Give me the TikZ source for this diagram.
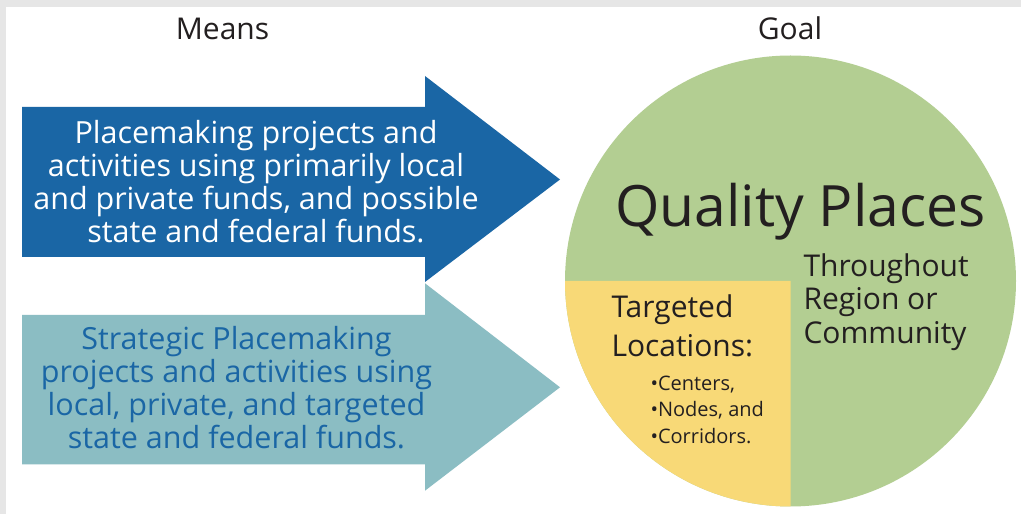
\documentclass[tikz,border=0pt]{standalone}
\usepackage{fontspec}
\setmainfont{Open Sans}
\definecolor{border}{HTML}{E6E6E6}
\definecolor{darkblue}{HTML}{1A66A5}
\definecolor{teal}{HTML}{8BBDC3}
\definecolor{leaf}{HTML}{B3CE92}
\definecolor{sun}{HTML}{F8D977}
\definecolor{ink}{HTML}{231F20}
\tikzset{
  lbl/.style={inner sep=0pt, outer sep=0pt, anchor=base},
  arrowshape/.style={draw=none},
}
\newcommand{\blk}[3]{\begin{tabular}[t]{@{}#1@{}}#3\end{tabular}}
\begin{document}
\begin{tikzpicture}[x=1pt,y=1pt]
\useasboundingbox (0,0) rectangle (1021,514);
\fill[white] (0,0) rectangle (1021,514);
% frame
\fill[border] (0,507) rectangle (1021,514);
\fill[border] (0,0) rectangle (6,514);
% headings
\node[lbl, font=\fontsize{30}{34}\selectfont, text=ink] (means) at (222.5,474) {Means};
\node[lbl, font=\fontsize{30}{34}\selectfont, text=ink] (goal) at (790,474) {Goal};
% arrows
\fill[teal] (22,199) -- (425,199) -- (425,230.7) -- (560,126.7) -- (425,23.3) -- (425,49.7) -- (22,49.7) -- cycle;
\fill[darkblue] (22,407) -- (425,407) -- (425,438) -- (560,334.5) -- (425,232) -- (425,257) -- (22,257) -- cycle;
\node[lbl, text=white, font=\fontsize{30.5}{32}\selectfont] (means1) at (256,370)
  {\blk{c}{}{Placemaking projects and\\activities using primarily local\\and private funds, and possible\\state and federal funds.}};
\node[lbl, text=darkblue, font=\fontsize{30.5}{32}\selectfont] (means2) at (236.5,164)
  {\blk{c}{}{Strategic Placemaking\\projects and activities using\\local, private, and targeted\\state and federal funds.}};
% goal circle
\coordinate (c) at (790.5,233);
\fill[leaf] (c) circle[radius=225.5];
\fill[sun] (c) -- (565,233) arc[start angle=180, end angle=270, radius=225.5] -- cycle;
\node[lbl, text=ink, font=\fontsize{57}{60}\selectfont] (qp) at (800.5,287) {Quality Places};
\node[lbl, anchor=base west, text=ink, font=\fontsize{30}{33.5}\selectfont] (region) at (803.5,237.5)
  {\blk{l}{}{Throughout\\Region or\\Community}};
\node[lbl, anchor=base west, text=ink, font=\fontsize{30}{38.5}\selectfont] (target) at (611.5,196)
  {\blk{l}{}{Targeted\\Locations:}};
\node[lbl, anchor=base west, text=ink, font=\fontsize{20}{26.3}\selectfont] (bullets) at (650.5,123.3)
  {\blk{l}{}{•Centers,\\•Nodes, and\\•Corridors.}};
\end{tikzpicture}
\end{document}
